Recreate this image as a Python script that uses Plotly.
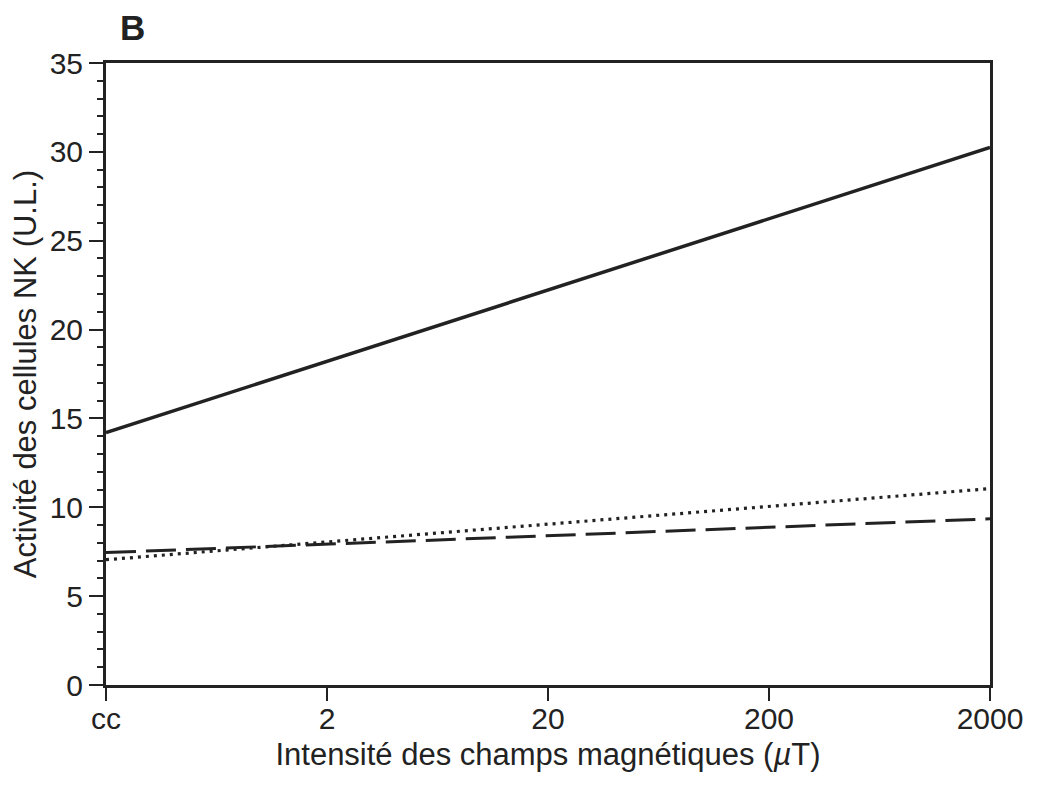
import plotly.graph_objects as go

categories = ["cc", "2", "20", "200", "2000"]
solid_vals = [14.2, 18.2, 22.2, 26.2, 30.25]
dotted_vals = [7.05, 8.05, 9.05, 10.05, 11.05]
dashed_vals = [7.45, 7.93, 8.4, 8.88, 9.35]

FONT = "Liberation Sans, Arial, sans-serif"

fig = go.Figure()
fig.add_trace(go.Scatter(x=categories, y=dotted_vals, mode="lines",
                         line=dict(color="#222", width=3.2, dash="3px,5px"), showlegend=False))
fig.add_trace(go.Scatter(x=categories, y=dashed_vals, mode="lines",
                         line=dict(color="#222", width=3, dash="30px,10px"), showlegend=False))
fig.add_trace(go.Scatter(x=categories, y=solid_vals, mode="lines",
                         line=dict(color="#222", width=3.5), showlegend=False))

fig.update_layout(
    width=1032, height=777,
    margin=dict(l=98, r=50, t=55, b=100, autoexpand=False),
    paper_bgcolor="white", plot_bgcolor="white",
    font=dict(family=FONT, color="#222", size=30),
    showlegend=False,
)
fig.update_xaxes(
    type="category", range=[0, 4], showgrid=False, zeroline=False, automargin=False,
    showline=True, linecolor="#222", linewidth=3, mirror=True,
    ticks="outside", ticklen=13, tickwidth=2, tickcolor="#222",
    ticklabelstandoff=-8,
    tickfont=dict(size=30, family=FONT),
    title=dict(text="Intensité des champs magnétiques (<i>µ</i>T)", font=dict(size=31, family=FONT), standoff=10),
)
fig.update_yaxes(
    range=[0, 35], dtick=5, showgrid=False, zeroline=False, automargin=False,
    showline=True, linecolor="#222", linewidth=3, mirror=True,
    ticks="outside", ticklen=14, tickwidth=2, tickcolor="#222",
    minor=dict(dtick=1, ticks="outside", ticklen=6, tickwidth=1.5, tickcolor="#222"),
    tickfont=dict(size=30, family=FONT),
    title=dict(text="Activité des cellules NK (U.L.)", font=dict(size=31, family=FONT), standoff=4),
)
fig.add_annotation(text="<b>B</b>", xref="paper", yref="paper", x=0.0135, y=1.0,
                   xanchor="left", yanchor="bottom", yshift=14, showarrow=False,
                   font=dict(size=35, family=FONT, color="#222"))

fig.write_html("out.html")
